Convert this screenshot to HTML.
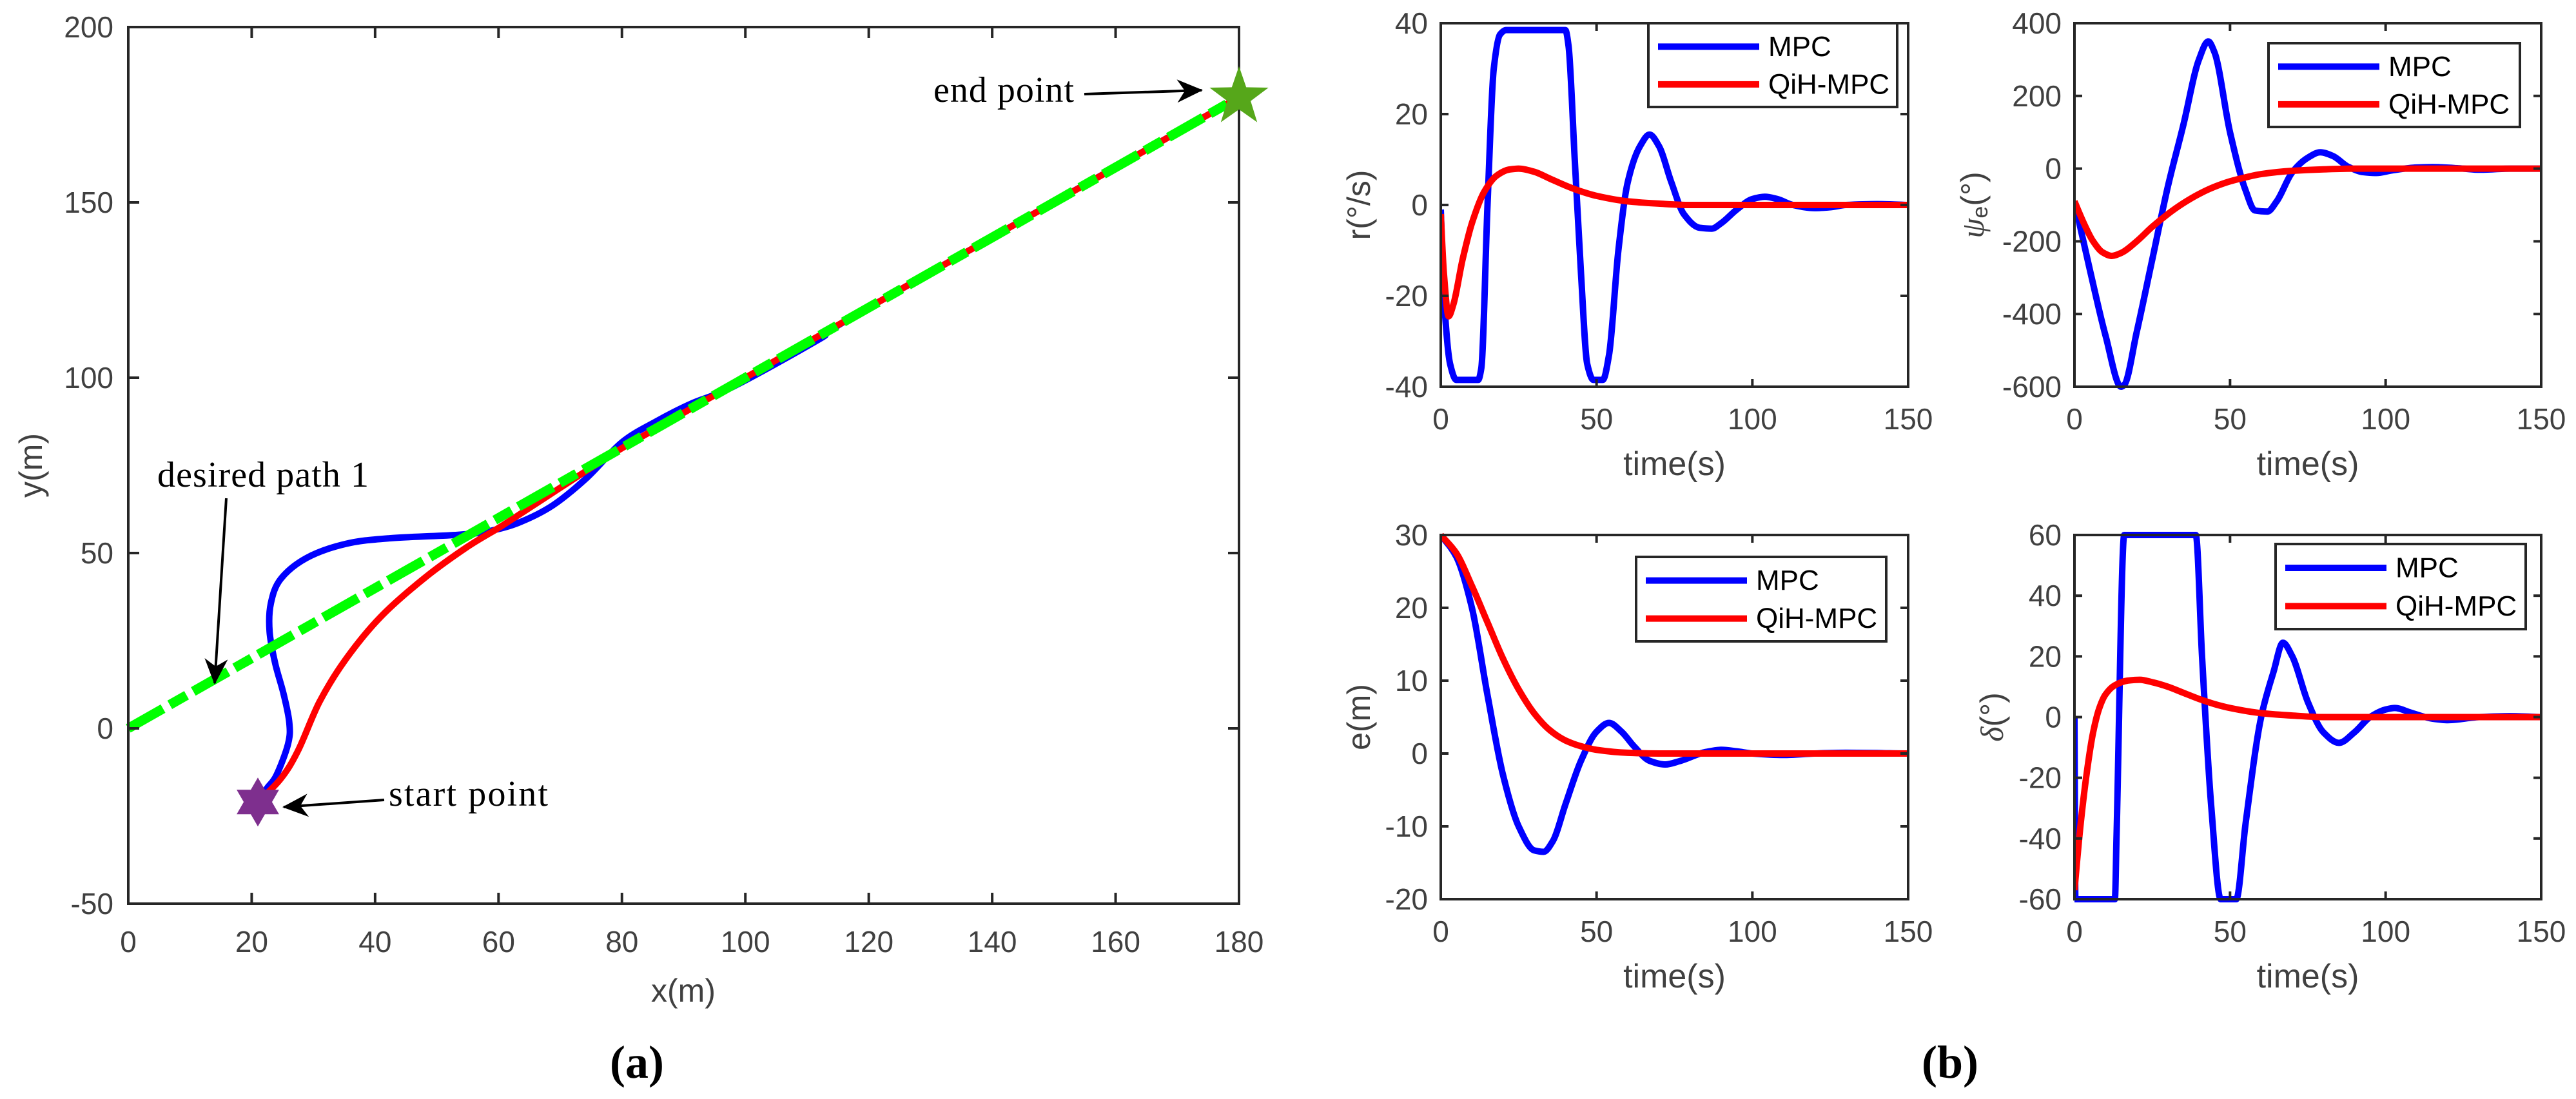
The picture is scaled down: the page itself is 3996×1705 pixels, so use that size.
<!DOCTYPE html>
<html><head><meta charset="utf-8">
<style>
html,body{margin:0;padding:0;background:#fff;}
svg{display:block;}
text{font-family:"Liberation Sans",sans-serif;}
.tick{fill:#404040;font-size:46px;}
.serif{font-family:"Liberation Serif",serif;fill:#000;}
</style></head>
<body>
<svg id="fig" width="3996" height="1705" viewBox="0 0 3996 1705" xmlns="http://www.w3.org/2000/svg">
<defs>
<marker id="ah" viewBox="0 0 40 40" refX="38" refY="20" markerWidth="46" markerHeight="40" markerUnits="userSpaceOnUse" orient="auto">
<path d="M0,2 L40,20 L0,38 L12,20 Z" fill="#000"/>
</marker>
</defs>
</svg>
<script>
// ---- Panel (a) data: trajectories in x-y plane ----
const pathDesiredX = [0, 180];
const pathDesiredY = [0, 180];
const mpcPathX = [21,22.5,24,25.9,26.1,25.2,23.8,22.9,23.1,24.7,28.9,35.2,42.2,53.4,58.3,63.2,68.8,74.4,80,85.6,91.2,98.2,112,119,180];
const mpcPathY = [-21,-17,-13.4,-4.4,1.6,9.6,18.6,27.6,35.6,42.6,48.6,52.6,54.2,55.2,56.2,58.6,63.6,71.6,81.6,87.6,92.6,97.6,111,119,180];
const qihPathX = [21,24.7,27.5,31,35.2,40.8,47.8,54.8,60.4,66,77,90,180];
const qihPathY = [-21,-14.4,-6.4,7.6,19.6,31.6,42.6,51.6,57.6,64,76.5,90,180];
const startPoint = [21,-21];
const endPoint = [180,180];
const xTicksA = [0,20,40,60,80,100,120,140,160,180];
const yTicksA = [-50,0,50,100,150,200];

// ---- Panel (b) data ----
const tR_mpc = [0,1,3,5,12,13,15,17,19,21,40,41,43,45,47,49,52,54,57,60,64,67,70,74,78,83,87,90,95,100,104,108,113,120,125,130,140,150];
const r_mpc  = [-1,-20,-35,-38.5,-38.5,-36,0,30,37.5,38.5,38.5,35,10,-15,-35,-38.5,-38.5,-33,-10,5,13,15.5,13,5,-2,-5,-5.2,-4,-1,1.3,1.8,1.3,0,-0.7,-0.5,0,0.2,0];
const tR_qih = [0,1,2.5,4,7,10,14,18,22,25,30,35,40,45,50,60,70,80,150];
const r_qih  = [-2,-15,-24.5,-22,-12,-4,3,6.5,7.8,8,7.3,5.8,4.3,3,2,0.8,0.3,0,0];

const tP_mpc = [0,5,10,15,16,20,25,30,35,40,43,45,50,55,58,62,65,70,75,79,83,88,93,97,102,110,115,125,130,140,150];
const p_mpc  = [-90,-280,-460,-600,-595,-450,-250,-50,120,300,350,320,100,-60,-115,-118,-90,-10,30,45,35,5,-10,-12,-5,3,4,0,-3,0,0];
const tP_qih = [0,3,6,9,12,15,20,25,30,35,40,45,50,55,60,70,80,90,150];
const p_qih  = [-90,-150,-200,-230,-240,-232,-200,-160,-125,-95,-70,-50,-35,-24,-15,-6,-2,0,0];

const tE_mpc = [0,5,10,15,20,25,30,33,36,40,45,50,54,58,62,67,72,77,85,90,95,100,110,120,130,150];
const e_mpc  = [30,27,20,8,-3,-10,-13.3,-13.5,-12,-7,-1,3,4.2,3,1,-1,-1.5,-1,0.2,0.5,0.3,0,-0.2,0,0.1,0];
const tE_qih = [0,5,10,15,20,25,30,35,40,45,50,60,70,150];
const e_qih  = [30,27.5,23,18,13,8.8,5.5,3.2,1.8,1,0.5,0.1,0,0];

const tD_mpc = [0,0.3,13,13.5,16,39,41,44,47,52,55,60,64,67,70,75,80,85,90,95,100,103,108,115,120,130,140,150];
const d_mpc  = [0,-60,-60,-40,60,60,20,-30,-60,-60,-35,0,15,24.5,20,5,-5,-8.5,-5,0,2.5,3,1.5,-0.5,-1,0,0.3,0];
const tD_qih = [0,2,4,6,8,10,13,17,21,25,30,35,40,45,50,60,70,80,150];
const d_qih  = [-57,-35,-18,-5,3,7.5,10.5,12,12.3,11.5,10,8,6,4.3,3,1.3,0.5,0,0];

const timeTicks = [0,50,100,150];
const rTicks = [-40,-20,0,20,40];
const pTicks = [-600,-400,-200,0,200,400];
const eTicks = [-20,-10,0,10,20,30];
const dTicks = [-60,-40,-20,0,20,40,60];
const legendLabels = ["MPC","QiH-MPC"];

const NS = "http://www.w3.org/2000/svg";
const svg = document.getElementById('fig');
function mk(tag, attrs, parent){
  const e = document.createElementNS(NS, tag);
  for (const k in attrs) e.setAttribute(k, attrs[k]);
  (parent||svg).appendChild(e);
  return e;
}
function scale(d0,d1,r0,r1){ return v => r0 + (v-d0)/(d1-d0)*(r1-r0); }
function poly(xs, ys, sx, sy){ return xs.map((x,i)=>sx(x).toFixed(1)+','+sy(ys[i]).toFixed(1)).join(' '); }
// Catmull-Rom smooth path (for x-y trajectory)
function smoothPath(xs, ys, sx, sy){
  const P = xs.map((x,i)=>[sx(x), sy(ys[i])]);
  let d = 'M'+P[0][0].toFixed(1)+','+P[0][1].toFixed(1);
  for (let i=0;i<P.length-1;i++){
    const p0=P[Math.max(0,i-1)], p1=P[i], p2=P[i+1], p3=P[Math.min(P.length-1,i+2)];
    const c1=[p1[0]+(p2[0]-p0[0])/6, p1[1]+(p2[1]-p0[1])/6];
    const c2=[p2[0]-(p3[0]-p1[0])/6, p2[1]-(p3[1]-p1[1])/6];
    d += ' C'+c1.map(v=>v.toFixed(1)).join(',')+' '+c2.map(v=>v.toFixed(1)).join(',')+' '+p2.map(v=>v.toFixed(1)).join(',');
  }
  return d;
}
// Monotone cubic (Fritsch-Carlson) for time series
function monoPath(xs, ys, sx, sy){
  const X = xs.map(sx), Y = ys.map(sy), n = X.length;
  const dx=[], m=[], t=new Array(n);
  for (let i=0;i<n-1;i++){ dx.push(X[i+1]-X[i]); m.push((Y[i+1]-Y[i])/(X[i+1]-X[i])); }
  t[0]=m[0]; t[n-1]=m[n-2];
  for (let i=1;i<n-1;i++){
    if (m[i-1]*m[i]<=0) t[i]=0;
    else { const w1=2*dx[i]+dx[i-1], w2=dx[i]+2*dx[i-1]; t[i]=(w1+w2)/(w1/m[i-1]+w2/m[i]); }
  }
  let d='M'+X[0].toFixed(1)+','+Y[0].toFixed(1);
  for (let i=0;i<n-1;i++){
    const h=dx[i]/3;
    d+=' C'+(X[i]+h).toFixed(1)+','+(Y[i]+t[i]*h).toFixed(1)+' '+(X[i+1]-h).toFixed(1)+','+(Y[i+1]-t[i+1]*h).toFixed(1)+' '+X[i+1].toFixed(1)+','+Y[i+1].toFixed(1);
  }
  return d;
}

function axesBox(g, L, R, T, B, xt, yt, sx, sy, tl, xLabY, yLabX){
  for (const v of xt){
    const x = sx(v);
    let t = mk('line',{x1:x,x2:x,y1:B,y2:B-tl,stroke:'#262626','stroke-width':4},g);
     
    t = mk('line',{x1:x,x2:x,y1:T,y2:T+tl,stroke:'#262626','stroke-width':4},g);
     
    const lb = mk('text',{x:x,y:xLabY,'text-anchor':'middle','class':'tick','dominant-baseline':'central'},g);
     
    lb.textContent = v;
  }
  for (const v of yt){
    const y = sy(v);
    let t = mk('line',{x1:L,x2:L+tl,y1:y,y2:y,stroke:'#262626','stroke-width':4},g);
     
    t = mk('line',{x1:R,x2:R-tl,y1:y,y2:y,stroke:'#262626','stroke-width':4},g);
     
    const lb = mk('text',{x:yLabX,y:y,'text-anchor':'end','class':'tick','dominant-baseline':'central'},g);
     
    lb.textContent = v;
  }
  const box = mk('rect',{x:L,y:T,width:R-L,height:B-T,fill:'none',stroke:'#262626','stroke-width':4},g);
   
}

// ---------- Panel (a) ----------
(function(){
  const L=199,R=1922,T=42,B=1402;
  const sx = scale(0,180,L,R), sy = scale(-50,200,B,T);
  const g = mk('g',{});
   
  const clip = mk('clipPath',{id:'clipA'},g);
  mk('rect',{x:L,y:T,width:R-L,height:B-T},clip);
  const cg = mk('g',{'clip-path':'url(#clipA)'},g);
  let p = mk('path',{d:smoothPath(mpcPathX,mpcPathY,sx,sy),fill:'none',stroke:'#0000ff','stroke-width':10,'stroke-linejoin':'round'},cg);
   
  p = mk('path',{d:smoothPath(qihPathX,qihPathY,sx,sy),fill:'none',stroke:'#ff0000','stroke-width':10,'stroke-linejoin':'round'},cg);
   
  p = mk('polyline',{points:poly(pathDesiredX,pathDesiredY,sx,sy),fill:'none',stroke:'#00ff00','stroke-width':15,'stroke-dasharray':'62 12 30 12'},g);
   
  axesBox(g,L,R,T,B,xTicksA,yTicksA,sx,sy,17,1461,176);
  const cx=sx(startPoint[0]), cy=sy(startPoint[1]), r=38;
  const tri=(a0)=>[0,1,2].map(k=>{const a=a0+k*2*Math.PI/3;return (cx+r*Math.cos(a)).toFixed(1)+','+(cy+r*Math.sin(a)).toFixed(1);}).join(' ');
  const sg = mk('g',{},g);
   
  mk('polygon',{points:tri(-Math.PI/2),fill:'#7e2f8e'},sg);
  mk('polygon',{points:tri(Math.PI/2),fill:'#7e2f8e'},sg);
  const ex=sx(endPoint[0]), ey=sy(endPoint[1]);
  const pts=[]; for(let k=0;k<10;k++){const a=-Math.PI/2+k*Math.PI/5;const rr=k%2?19:48;pts.push((ex+rr*Math.cos(a)).toFixed(1)+','+(ey+rr*Math.sin(a)).toFixed(1));}
  p = mk('polygon',{points:pts.join(' '),fill:'#56a71a'},g);
   
  let t = mk('text',{x:1448,y:158,'class':'serif','font-size':56,textLength:218},g);
    t.textContent='end point';
  p = mk('line',{x1:1682,y1:146,x2:1864,y2:140,stroke:'#000','stroke-width':4,'marker-end':'url(#ah)'},g);
   
  t = mk('text',{x:244,y:755,'class':'serif','font-size':56,textLength:328},g);
    t.textContent='desired path 1';
  p = mk('line',{x1:351,y1:773,x2:333,y2:1060,stroke:'#000','stroke-width':4,'marker-end':'url(#ah)'},g);
   
  t = mk('text',{x:603,y:1250,'class':'serif','font-size':56,textLength:247},g);
    t.textContent='start point';
  p = mk('line',{x1:596,y1:1241,x2:440,y2:1252,stroke:'#000','stroke-width':4,'marker-end':'url(#ah)'},g);
   
  t = mk('text',{x:1060,y:1537,'text-anchor':'middle','dominant-baseline':'central','font-size':50,fill:'#404040'},g);
    t.textContent='x(m)';
  t = mk('text',{x:0,y:0,'text-anchor':'middle','dominant-baseline':'central','font-size':50,fill:'#404040',transform:'translate(48,722) rotate(-90)'},g);
    t.textContent='y(m)';
  t = mk('text',{x:988,y:1672,'text-anchor':'middle','class':'serif','font-size':72,'font-weight':'bold'},g);
    t.textContent='(a)';
})();

// ---------- Panel (b) small plots ----------
function small(opt){
  const {L,R,T,B,yMin,yMax,yt,tm,vm,tq,vq,name,ylabel,ylx,leg} = opt;
  const sx = scale(0,150,L,R), sy = scale(yMin,yMax,B,T);
  const g = mk('g',{});
   
  const cid='clip-'+name;
  const clip = mk('clipPath',{id:cid},g);
  mk('rect',{x:L,y:T-5,width:R-L,height:B-T+10},clip);
  const cg = mk('g',{'clip-path':'url(#'+cid+')'},g);
  let p = mk('path',{d:monoPath(tm,vm,sx,sy),fill:'none',stroke:'#0000ff','stroke-width':10,'stroke-linejoin':'round'},cg);
   
  p = mk('path',{d:monoPath(tq,vq,sx,sy),fill:'none',stroke:'#ff0000','stroke-width':10,'stroke-linejoin':'round'},cg);
   
  axesBox(g,L,R,T,B,timeTicks,yt,sx,sy,12,B+50,L-20);
  let t = mk('text',{x:(L+R)/2,y:B+120,'text-anchor':'middle','dominant-baseline':'central','font-size':52,fill:'#404040'},g);
    t.textContent='time(s)';
  t = mk('text',{x:0,y:0,'text-anchor':'middle','dominant-baseline':'central','font-size':50,fill:'#404040',transform:'translate('+ylx+','+((T+B)/2)+') rotate(-90)'},g);
   
  t.innerHTML = ylabel;
  const lg = mk('g',{},g);
   
  mk('rect',{x:leg.x,y:leg.y,width:leg.w,height:leg.h,fill:'#fff',stroke:'#262626','stroke-width':4},lg);
  const cols=['#0000ff','#ff0000'];
  legendLabels.forEach((lab,i)=>{
    const yy = leg.y + leg.h*(i===0?0.28:0.73);
    const le = mk('g',{},lg);
     
    mk('line',{x1:leg.x+15,x2:leg.x+172,y1:yy,y2:yy,stroke:cols[i],'stroke-width':10},le);
    const tx = mk('text',{x:leg.x+186,y:yy,'dominant-baseline':'central','font-size':44,fill:'#000'},le);
    tx.textContent = lab;
  });
}
small({L:2235,R:2960,T:36,B:600,yMin:-40,yMax:40,yt:rTicks,tm:tR_mpc,vm:r_mpc,tq:tR_qih,vq:r_qih,name:'yaw-rate-plot',ylabel:'r(°/s)',ylx:2108,leg:{x:2557,y:36,w:386,h:130}});
small({L:3218,R:3942,T:36,B:600,yMin:-600,yMax:400,yt:pTicks,tm:tP_mpc,vm:p_mpc,tq:tP_qih,vq:p_qih,name:'heading-error-plot',ylabel:'<tspan font-family="Liberation Serif" font-style="italic">ψ</tspan><tspan font-size="34" dy="12">e</tspan><tspan dy="-12">(°)</tspan>',ylx:3060,leg:{x:3519,y:67,w:390,h:130}});
small({L:2235,R:2960,T:830,B:1395,yMin:-20,yMax:30,yt:eTicks,tm:tE_mpc,vm:e_mpc,tq:tE_qih,vq:e_qih,name:'cross-track-error-plot',ylabel:'e(m)',ylx:2108,leg:{x:2538,y:864,w:388,h:131}});
small({L:3218,R:3942,T:830,B:1395,yMin:-60,yMax:60,yt:dTicks,tm:tD_mpc,vm:d_mpc,tq:tD_qih,vq:d_qih,name:'rudder-angle-plot',ylabel:'<tspan font-family="Liberation Serif" font-style="italic">δ</tspan>(°)',ylx:3090,leg:{x:3530,y:844,w:388,h:132}});

const cb = mk('text',{x:3025,y:1672,'text-anchor':'middle','class':'serif','font-size':72,'font-weight':'bold'});


cb.textContent='(b)';
</script>
</body></html>
